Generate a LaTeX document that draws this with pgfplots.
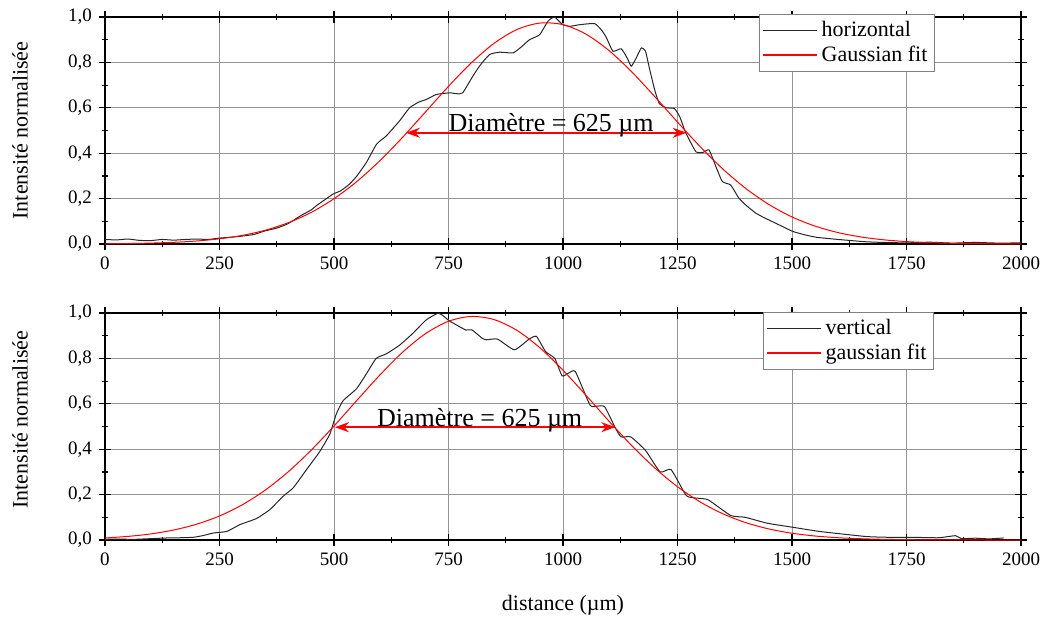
\documentclass[border=0pt]{standalone}
\usepackage{fontspec}
\setmainfont{Liberation Serif}
\usepackage{pgfplots}
\pgfplotsset{compat=1.18}
\usetikzlibrary{arrows.meta}

\pgfplotsset{
  myax/.style={
    scale only axis, width=458pt, height=113.5pt,
    xmin=0,xmax=2000,ymin=0,ymax=1,
    xtick={0,250,500,750,1000,1250,1500,1750,2000}, minor x tick num=1,
    ytick={0,0.2,0.4,0.6,0.8,1}, minor y tick num=1,
    grid=major, major grid style={gray!85, line width=0.5pt},
    axis line style={line width=1pt},
    tick align=center, major tick length=6pt, minor tick length=3pt,
    tick style={black, line width=0.6pt},
    /pgf/number format/assume math mode=true,
    x tick label style={/pgf/number format/1000 sep={}},
    y tick label style={/pgf/number format/.cd, use comma, fixed, fixed zerofill, precision=1},
    tick label style={font=\fontsize{9.5}{11}\selectfont},
    ylabel={Intensité normalisée},
    ylabel style={at={(axis description cs:-0.0928,0.5)}, anchor=center},
    label style={font=\fontsize{11}{13}\selectfont},
    legend style={draw=gray, line width=0.5pt, fill=white, font=\fontsize{11}{13}\selectfont, anchor=north east, cells={anchor=west}, inner sep=1.5pt, row sep=-1pt},
  },
}

\begin{document}
\begin{tikzpicture}
\begin{axis}[myax, at={(0,0)}, anchor=south west,
  legend style={at={(rel axis cs:0.906,1.013)}}]
\addplot[black!85, line width=0.5pt, smooth, tension=0.3, forget plot] coordinates {
(0,0.02) (25,0.018) (50,0.022) (75,0.016) (100,0.015) (125,0.02) (150,0.017) (175,0.02) (200,0.022) (225,0.02)
(250,0.026) (275,0.03) (300,0.035) (325,0.042) (350,0.058) (375,0.07) (400,0.09) (425,0.122) (450,0.15) (461,0.168)
(480,0.195) (498,0.22) (515,0.235) (534,0.264) (550,0.3) (571,0.36) (593,0.44) (614,0.476) (643,0.542) (665,0.60)
(685,0.625) (702,0.637) (724,0.659) (753,0.666) (768,0.662) (781,0.666) (803,0.739) (820,0.79) (840,0.835) (862,0.845)
(891,0.842) (910,0.87) (927,0.90) (949,0.922) (967,0.981) (981,1.0) (992,0.98) (1000,0.966) (1015,0.959) (1036,0.966)
(1069,0.971) (1085,0.94) (1095,0.908) (1109,0.849) (1127,0.86) (1140,0.82) (1149,0.783) (1160,0.82) (1171,0.864) (1180,0.85)
(1188,0.78) (1200,0.68) (1210,0.62) (1225,0.60) (1243,0.597) (1255,0.56) (1268,0.49) (1290,0.407) (1305,0.403) (1319,0.414)
(1334,0.34) (1348,0.275) (1366,0.26) (1384,0.202) (1400,0.17) (1421,0.136) (1440,0.115) (1464,0.092) (1501,0.056) (1525,0.042)
(1552,0.03) (1590,0.022) (1624,0.016) (1660,0.01) (1697,0.007) (1750,0.005) (1800,0.008) (1850,0.004) (1900,0.007) (1950,0.004) (2000,0.005)
};
\addplot[red, line width=0.5pt, smooth, forget plot] coordinates {
(0,0.001) (50,0.002) (100,0.004) (150,0.0074) (200,0.0133) (250,0.0229) (300,0.038) (350,0.0607) (400,0.0936) (450,0.139)
(500,0.1995) (550,0.2754) (600,0.3667) (650,0.4706) (700,0.5824) (750,0.6945) (800,0.7984) (850,0.8848) (900,0.9453) (950,0.9734)
(1000,0.9663) (1050,0.9247) (1100,0.8529) (1150,0.7584) (1200,0.6501) (1250,0.5371) (1300,0.4278) (1350,0.3285) (1400,0.2432) (1450,0.1735)
(1500,0.1192) (1550,0.0791) (1600,0.0505) (1650,0.0311) (1700,0.0185) (1750,0.0106) (1800,0.0058) (1850,0.0031) (1900,0.0016) (1950,0.0008) (2000,0.0004)
};
\addlegendimage{legend image code/.code={\draw[black!85, line width=0.7pt] (0pt,0pt) -- (27pt,0pt);}}
\addlegendentry{horizontal}
\addlegendimage{legend image code/.code={\draw[red, line width=0.7pt] (0pt,0pt) -- (27pt,0pt);}}
\addlegendentry{Gaussian fit}
\draw[red, line width=0.8pt, {Stealth[length=7pt,width=5pt]}-{Stealth[length=7pt,width=5pt]}] (axis cs:657,0.49) -- (axis cs:1270,0.49);
\node[anchor=base, inner sep=0pt, font=\fontsize{13}{15}\selectfont] at (axis cs:974,0.497) {Diamètre = 625 µm};
\end{axis}

\begin{axis}[myax, at={(0,-148pt)}, anchor=south west,
  legend style={at={(rel axis cs:0.905,1.004)}},
  ylabel style={at={(axis description cs:-0.0928,0.53)}},
  xlabel={distance (µm)},
  xlabel style={at={(axis description cs:0.5,0)}, anchor=center, yshift=-32.5pt}]
\addplot[black!85, line width=0.5pt, smooth, tension=0.3, forget plot] coordinates {
(0,0.003) (25,0.004) (63,0.003) (100,0.006) (135,0.009) (165,0.01) (193,0.012) (215,0.02) (237,0.031) (266,0.038)
(295,0.068) (331,0.095) (360,0.134) (389,0.193) (411,0.23) (440,0.31) (469,0.39) (491,0.467) (505,0.555) (520,0.614)
(549,0.666) (571,0.733) (592,0.80) (614,0.82) (643,0.858) (672,0.91) (701,0.969) (727,0.999) (740,0.985) (752,0.965)
(788,0.925) (801,0.926) (824,0.888) (833,0.882) (857,0.885) (894,0.838) (926,0.885) (942,0.897) (962,0.83) (982,0.80)
(998,0.723) (1012,0.735) (1027,0.742) (1059,0.594) (1075,0.59) (1091,0.587) (1115,0.491) (1127,0.454) (1148,0.454) (1180,0.395)
(1212,0.30) (1236,0.31) (1269,0.196) (1290,0.185) (1317,0.177) (1366,0.108) (1398,0.10) (1446,0.074) (1502,0.056) (1559,0.038)
(1607,0.027) (1664,0.015) (1710,0.012) (1761,0.012) (1820,0.01) (1857,0.019) (1870,0.006) (1900,0.008) (1930,0.005) (1962,0.009)
};
\addplot[red, line width=0.5pt, smooth, forget plot] coordinates {
(0,0.009) (50,0.0159) (100,0.0269) (150,0.0441) (200,0.0696) (250,0.1059) (300,0.1554) (350,0.22) (400,0.3003) (450,0.3955)
(500,0.5022) (550,0.6151) (600,0.7265) (650,0.8277) (700,0.9094) (750,0.9636) (800,0.9848) (850,0.9707) (900,0.9228) (950,0.8459)
(1000,0.7479) (1050,0.6378) (1100,0.5246) (1150,0.4161) (1200,0.3183) (1250,0.2348) (1300,0.1671) (1350,0.1147) (1400,0.0759) (1450,0.0485)
(1500,0.0298) (1550,0.0177) (1600,0.0101) (1650,0.0056) (1700,0.003) (1750,0.0015) (1800,0.0007) (1850,0.0003) (1900,0.0001) (1950,0) (2000,0)
};
\addlegendimage{legend image code/.code={\draw[black!85, line width=0.7pt] (0pt,0pt) -- (27pt,0pt);}}
\addlegendentry{vertical}
\addlegendimage{legend image code/.code={\draw[red, line width=0.7pt] (0pt,0pt) -- (27pt,0pt);}}
\addlegendentry{gaussian fit}
\draw[red, line width=0.8pt, {Stealth[length=7pt,width=5pt]}-{Stealth[length=7pt,width=5pt]}] (axis cs:502,0.497) -- (axis cs:1114,0.497);
\node[anchor=base, inner sep=0pt, font=\fontsize{13}{15}\selectfont] at (axis cs:818,0.502) {Diamètre = 625 µm};
\end{axis}
\path (-52.5pt,-186.5pt) rectangle (471pt,122pt);
\end{tikzpicture}
\end{document}
